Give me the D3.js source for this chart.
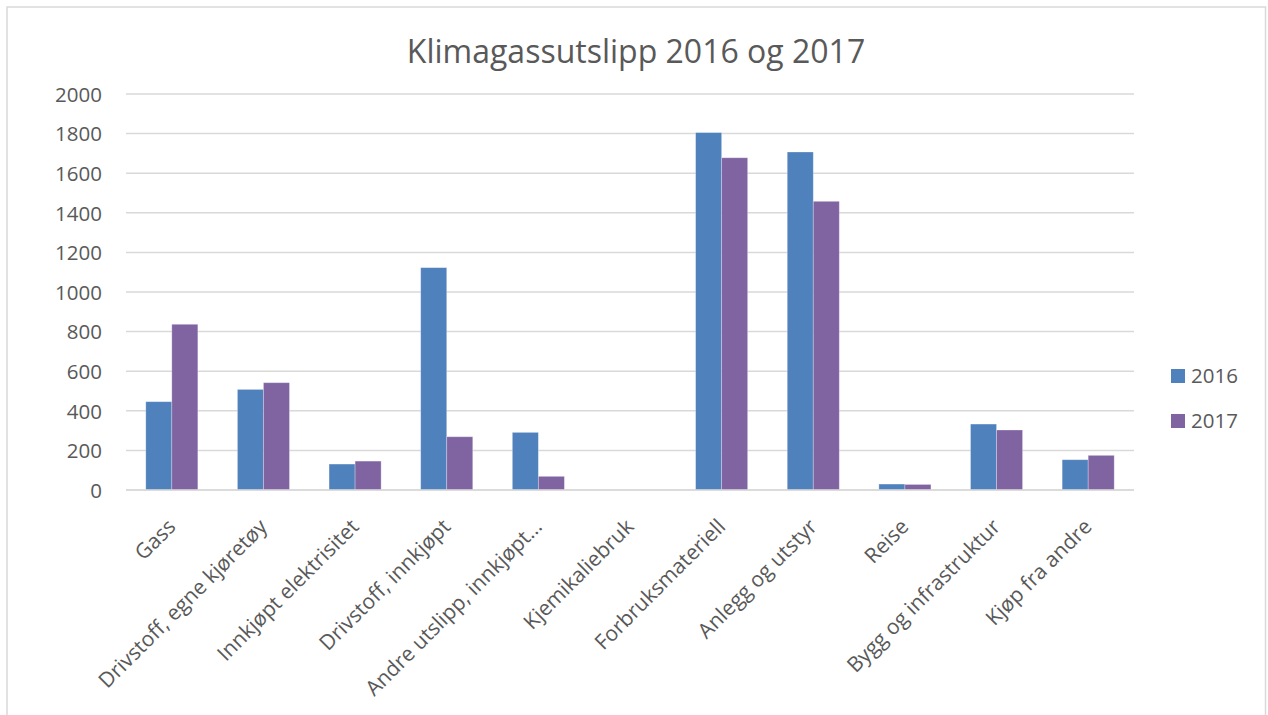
<!DOCTYPE html>
<html>
<head>
<meta charset="utf-8">
<script src="https://cdn.jsdelivr.net/npm/d3@7"></script>
<style>
  body { margin: 0; background: #fff; }
  svg { display: block; }
  text { font-family: "Open Sans", sans-serif; fill: #595959; }
</style>
</head>
<body>
<svg id="chart" width="1268" height="715"></svg>
<script>
const categories = ["Gass", "Drivstoff, egne kjøretøy", "Innkjøpt elektrisitet", "Drivstoff, innkjøpt",
  "Andre utslipp, innkjøpt…", "Kjemikaliebruk", "Forbruksmateriell", "Anlegg og utstyr", "Reise",
  "Bygg og infrastruktur", "Kjøp fra andre"];
const seriesNames = ["2016", "2017"];
const values2016 = [446, 508, 131, 1123, 291, 0, 1805, 1707, 30, 333, 153];
const values2017 = [837, 542, 146, 269, 69, 0, 1678, 1458, 28, 303, 175];
const yTicks = [0, 200, 400, 600, 800, 1000, 1200, 1400, 1600, 1800, 2000];
const colors = ["#4f81bd", "#8064a2"];
const title = "Klimagassutslipp 2016 og 2017";

const svg = d3.select("#chart");
const margin = { left: 126, right: 1134, top: 94, bottom: 490 };

// chart border
svg.append("rect").attr("x", 7).attr("y", 7).attr("width", 1258.5).attr("height", 720)
  .attr("fill", "none").attr("stroke", "#d9d9d9").attr("stroke-width", 1.5);

const x0 = d3.scaleBand().domain(categories).range([margin.left, margin.right])
  .paddingInner(0.432).paddingOuter(0.216);
const x1 = d3.scaleBand().domain(seriesNames).range([0, x0.bandwidth()]);
const y = d3.scaleLinear().domain([0, 2000]).range([margin.bottom, margin.top]);

// gridlines
svg.append("g").selectAll("line").data(yTicks).join("line")
  .attr("x1", margin.left).attr("x2", margin.right)
  .attr("y1", d => y(d)).attr("y2", d => y(d))
  .attr("stroke", "#d9d9d9").attr("stroke-width", 1.5);

// y axis labels
const yAxis = d3.axisLeft(y).tickValues(yTicks).tickFormat(d3.format("d")).tickSize(0).tickPadding(0);
const gy = svg.append("g").attr("transform", "translate(102,0)").call(yAxis);
gy.select(".domain").remove();
gy.selectAll("text").style("font-size", "20.5px").style("font-family", "'Open Sans', sans-serif")
  .attr("fill", "#595959").attr("dy", "0.36em");

// bars
const data = seriesNames.map((s, i) => ({ name: s, values: i === 0 ? values2016 : values2017, color: colors[i] }));
const groups = svg.append("g").selectAll("g").data(data).join("g").attr("fill", d => d.color);
groups.selectAll("rect").data(d => d.values.map((v, i) => ({ v, cat: categories[i], s: d.name })))
  .join("rect")
  .attr("x", d => x0(d.cat) + x1(d.s))
  .attr("y", d => y(d.v))
  .attr("width", x1.bandwidth())
  .attr("height", d => y(0) - y(d.v))
  .attr("stroke", "rgba(255,255,255,0.35)").attr("stroke-width", 0.8);

// baseline
svg.append("line").attr("x1", margin.left).attr("x2", margin.right)
  .attr("y1", y(0)).attr("y2", y(0)).attr("stroke", "#d9d9d9").attr("stroke-width", 1.5);

// x axis labels
const xAxis = d3.axisBottom(x0).tickSize(0).tickPadding(0);
const gx = svg.append("g").attr("transform", `translate(0,${margin.bottom})`).call(xAxis);
gx.select(".domain").remove();
gx.selectAll("text")
  .style("font-size", "21px").style("font-family", "'Open Sans', sans-serif")
  .attr("fill", "#595959")
  .attr("text-anchor", "end")
  .attr("y", 0).attr("dy", 0)
  .attr("transform", "translate(5,38) rotate(-45)");

// title
svg.append("text").attr("x", 636).attr("y", 63).attr("text-anchor", "middle")
  .style("font-size", "32px").text(title);

// legend
const leg = svg.append("g").selectAll("g").data(data).join("g")
  .attr("transform", (d, i) => `translate(1171,${369 + i * 45})`);
leg.append("rect").attr("width", 14).attr("height", 14).attr("fill", d => d.color);
leg.append("text").attr("x", 20).attr("y", 7).attr("dy", "0.36em")
  .style("font-size", "20.5px").text(d => d.name);
</script>
</body>
</html>
